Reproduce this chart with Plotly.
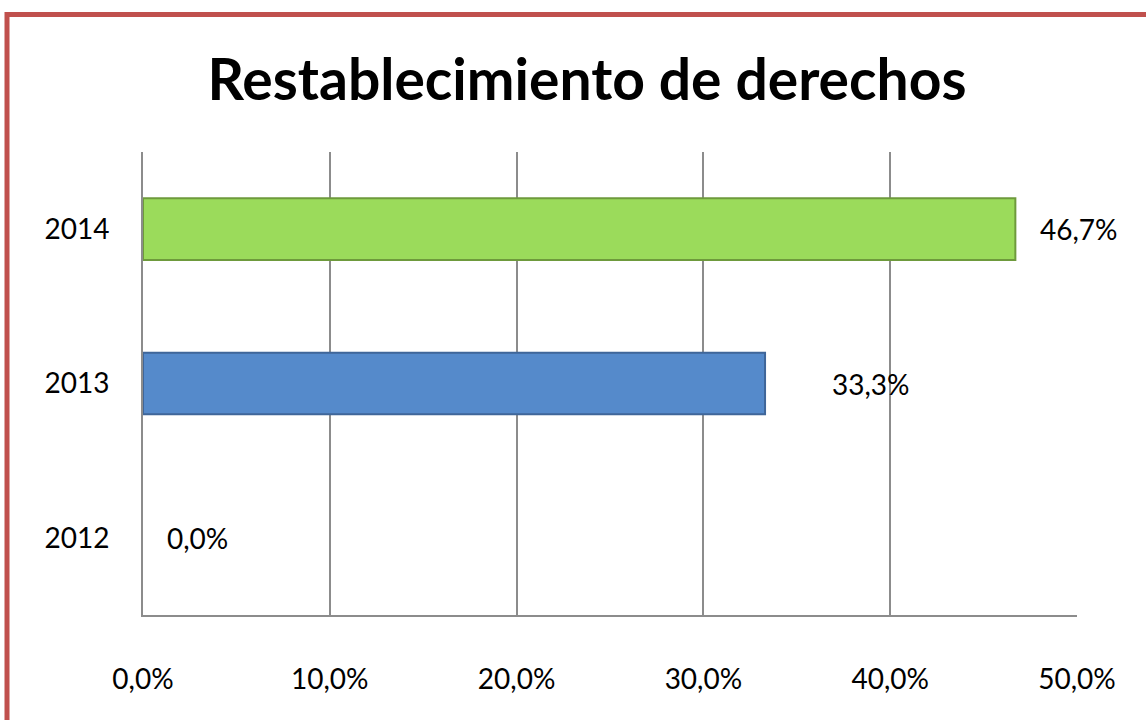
import plotly.graph_objects as go

years = ["2012", "2013", "2014"]
values = [0.0, 0.333, 0.467]
labels = ["0,0%", "33,3%", "46,7%"]
bar_colors = ["#4F81BD", "#558ACB", "#9BDB5B"]
edge_colors = ["#3F6699", "#3F6699", "#6E9A3C"]
edge_widths = [0, 2, 2]
label_shift = [22, 65, 23]
x_ticks = [0.0, 0.1, 0.2, 0.3, 0.4, 0.5]
title_text = "Restablecimiento de derechos"

W, H = 1146, 720
L, R, T, B = 143, 1077, 152, 615

pos = list(range(len(years)))

fig = go.Figure()
fig.add_trace(go.Bar(
    y=pos, x=values, orientation="h", width=0.4,
    marker=dict(color=bar_colors, line=dict(color=edge_colors, width=edge_widths)),
    hoverinfo="skip",
))

for y, v, t, s in zip(pos, values, labels, label_shift):
    fig.add_annotation(x=v, y=y, xref="x", yref="y", text=t, showarrow=False,
                       xanchor="left", yanchor="middle", xshift=s,
                       font=dict(size=28, color="#000000", family="Lato"))

pw, ph = R - L, B - T
def px(p): return (p - L) / pw
def py(q): return (B - q) / ph

# outer border (top and left)
fig.add_shape(type="line", xref="paper", yref="paper",
              x0=px(7), x1=px(W + 5), y0=py(14.5), y1=py(14.5),
              line=dict(color="#C0504D", width=5))
fig.add_shape(type="line", xref="paper", yref="paper",
              x0=px(7), x1=px(7), y0=py(12), y1=py(H + 5),
              line=dict(color="#C0504D", width=5))

fig.update_layout(
    width=W, height=H,
    margin=dict(l=L, r=W - R, t=T, b=H - B, pad=0),
    paper_bgcolor="white", plot_bgcolor="white",
    separators=",.",
    showlegend=False,
    font=dict(family="Lato", size=28, color="#000000"),
    title=dict(text="<b>" + title_text + "</b>", x=587 / W, y=1 - 80 / H,
               xanchor="center", yanchor="middle", xref="container", yref="container",
               font=dict(size=57, family="Lato", color="#000000")),
    xaxis=dict(range=[0, 0.5], tickvals=x_ticks, tickformat=".1%",
               showgrid=True, gridcolor="#8C8C8C", gridwidth=2,
               showline=True, linecolor="#8C8C8C", linewidth=2,
               zeroline=False, ticks="", ticklabelstandoff=38,
               tickfont=dict(size=28, family="Lato")),
    yaxis=dict(range=[-0.5, len(years) - 0.5], tickvals=pos, ticktext=years,
               showgrid=False, showline=True, linecolor="#8C8C8C", linewidth=2,
               zeroline=False, ticks="", ticklabelstandoff=26,
               tickfont=dict(size=28, family="Lato")),
)

fig.write_html("out.html", config={"displayModeBar": False},
               post_script="document.body.style.margin='0';document.body.style.overflow='hidden';")
